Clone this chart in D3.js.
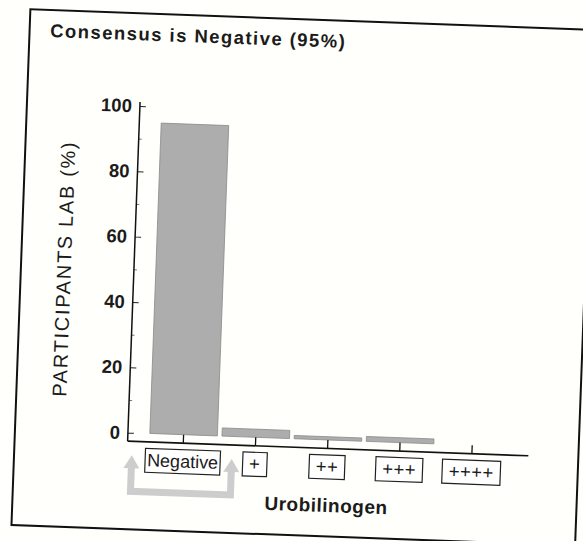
<!DOCTYPE html>
<html>
<head>
<meta charset="utf-8">
<script src="https://cdn.jsdelivr.net/npm/d3@7"></script>
<style>
  html, body { margin: 0; padding: 0; background: #fffffb; }
  svg { display: block; }
  text { font-family: "Liberation Sans", Arial, Helvetica, sans-serif; fill: #1b1b1b; }
</style>
</head>
<body>
<svg id="chart" width="583" height="541"></svg>
<script>
// ---- data ----
const categories = ["Negative", "+", "++", "+++", "++++"];
const values = [95, 2.5, 1, 1.5, 0];
const yTicks = [0, 20, 40, 60, 80, 100];
const yMinorTicks = [10, 30, 50, 70, 90];
const titleText = "Consensus is Negative (95%)";
const yLabelText = "PARTICIPANTS LAB (%)";
const xLabelText = "Urobilinogen";

// ---- layout ----
const W = 583, H = 541;
const svg = d3.select("#chart");
svg.append("rect").attr("width", W).attr("height", H).attr("fill", "#fffffb");

// scanned page is slightly rotated
const g = svg.append("g").attr("transform", "rotate(2.1, 291, 270)");

// frame
g.append("rect")
  .attr("x", 21).attr("y", 19).attr("width", 564).attr("height", 516)
  .attr("fill", "none").attr("stroke", "#111").attr("stroke-width", 2);

const axisX = 134, axisYLine = 447, axisRight = 535;

const y = d3.scaleLinear().domain([0, 100]).range([438.5, 111.6]);
const x = d3.scaleBand().domain(categories).range([153.6, 514.6])
  .paddingInner(0.064).paddingOuter(0.032);

// title
g.append("text")
  .attr("x", 41.7).attr("y", 46)
  .attr("font-size", 18.5).attr("font-weight", "bold")
  .attr("letter-spacing", 1.45)
  .text(titleText);

// bars
g.selectAll("rect.bar")
  .data(categories.map((c, i) => ({ c, v: values[i] })).filter(d => d.v > 0))
  .join("rect")
  .attr("class", "bar")
  .attr("x", d => x(d.c))
  .attr("width", x.bandwidth())
  .attr("y", d => y(d.v))
  .attr("height", d => y(0) - y(d.v))
  .attr("fill", "#adadad")
  .attr("stroke", "#8a8a8a")
  .attr("stroke-width", 0.8);

// y axis
const yAxisG = g.append("g").attr("transform", `translate(${axisX},0)`);
yAxisG.call(d3.axisLeft(y).tickValues(yTicks).tickSizeInner(-6).tickSizeOuter(0).tickPadding(8));
yAxisG.select(".domain").remove();
yAxisG.selectAll(".tick line").attr("stroke", "#222").attr("stroke-width", 1);
yAxisG.selectAll(".tick text")
  .attr("font-size", 18.5).attr("font-weight", "bold")
  .attr("fill", "#1b1b1b").attr("font-family", "Liberation Sans, Arial, sans-serif");

const yMinorG = g.append("g").attr("transform", `translate(${axisX},0)`);
yMinorG.call(d3.axisLeft(y).tickValues(yMinorTicks).tickSizeInner(-3).tickSizeOuter(0).tickFormat(""));
yMinorG.select(".domain").remove();
yMinorG.selectAll(".tick line").attr("stroke", "#555").attr("stroke-width", 0.8);

g.append("line")
  .attr("x1", axisX).attr("x2", axisX)
  .attr("y1", y(100) - 4).attr("y2", axisYLine)
  .attr("stroke", "#111").attr("stroke-width", 1.5);

// x axis (offset below zero, ticks pointing up to bars)
const xAxisG = g.append("g").attr("transform", `translate(0,${axisYLine})`);
xAxisG.call(d3.axisBottom(x).tickSizeInner(-(axisYLine - y(0))).tickSizeOuter(0).tickFormat(""));
xAxisG.select(".domain").remove();
xAxisG.selectAll(".tick line").attr("stroke", "#111").attr("stroke-width", 1.3);

g.append("line")
  .attr("x1", axisX).attr("x2", axisRight)
  .attr("y1", axisYLine).attr("y2", axisYLine)
  .attr("stroke", "#111").attr("stroke-width", 1.6);

// grey bracket arrows around the "Negative" label
const negC = x("Negative") + x.bandwidth() / 2;
const aL = negC - 51, aR = negC + 49;
const arrowColor = "#cdcdcd";
g.append("path")
  .attr("d", `M${aL},470 V497 H${aR} V470`)
  .attr("fill", "none").attr("stroke", arrowColor).attr("stroke-width", 7)
  .attr("stroke-linejoin", "miter");
[aL, aR].forEach(ax => {
  g.append("path")
    .attr("d", `M${ax},461 L${ax + 8},474 L${ax - 8},474 Z`)
    .attr("fill", arrowColor);
});

// boxed category labels
const labelG = g.append("g");
categories.forEach(c => {
  const isWord = /[A-Za-z]/.test(c);
  const t = labelG.append("text")
    .attr("x", x(c) + x.bandwidth() / 2)
    .attr("y", 471.5)
    .attr("text-anchor", "middle")
    .attr("font-size", isWord ? 18 : 18.5)
    .attr("letter-spacing", isWord ? 0 : 0.5)
    .text(c);
  const bb = t.node().getBBox();
  const padX = isWord ? 2 : 6.5;
  labelG.insert("rect", "text")
    .attr("x", bb.x - padX).attr("y", 453.5)
    .attr("width", bb.width + 2 * padX).attr("height", 24)
    .attr("fill", "#fff").attr("stroke", "#222").attr("stroke-width", 1.2);
});

// axis titles
g.append("text")
  .attr("x", 334.6).attr("y", 510.5)
  .attr("text-anchor", "middle")
  .attr("font-size", 19).attr("font-weight", "bold")
  .attr("letter-spacing", 0.5)
  .text(xLabelText);

g.append("text")
  .attr("transform", "translate(71,277) rotate(-90)")
  .attr("text-anchor", "middle")
  .attr("font-size", 20)
  .attr("letter-spacing", 1.7)
  .text(yLabelText);
</script>
</body>
</html>
